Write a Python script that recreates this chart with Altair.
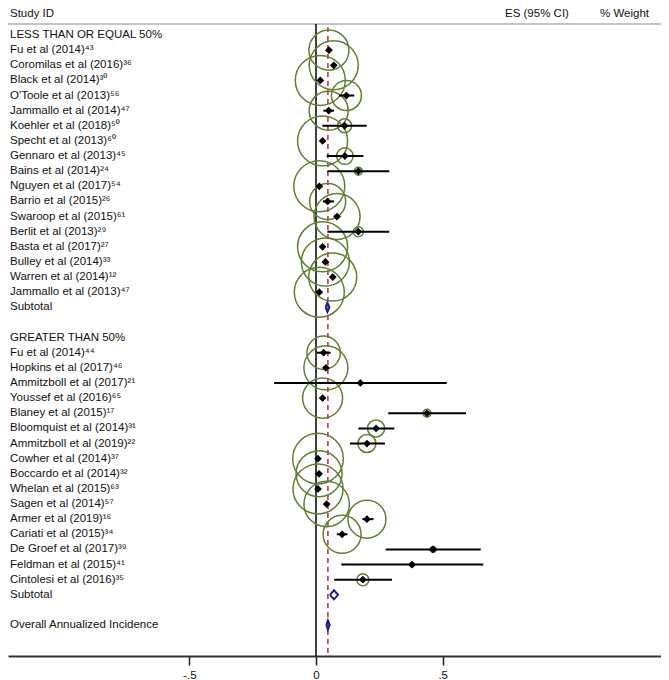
import altair as alt
import pandas as pd

FONT = "Liberation Sans, Noto Sans, Roboto"
TXT = "#111111"
GREEN = "#5f7f32"
NAVY = "#1c1c8a"
RED = "#b5283c"

# ---------------- data ----------------
group_titles = ["LESS THAN OR EQUAL 50%", "GREATER THAN 50%"]

g1_study = ["Fu et al (2014)", "Coromilas et al (2016)", "Black et al (2014)", "O'Toole  et al (2013)",
            "Jammallo et al (2014)", "Koehler et al (2018)", "Specht et al (2013)", "Gennaro et al (2013)",
            "Bains et al (2014)", "Nguyen et al (2017)", "Barrio et al (2015)", "Swaroop et al (2015)",
            "Berlit et al (2013)", "Basta et al (2017)", "Bulley et al (2014)", "Warren et al (2014)",
            "Jammallo et al (2013)"]
g1_ref = [43, 36, 30, 56, 47, 50, 60, 45, 24, 54, 26, 61, 29, 27, 33, 12, 47]
g1_es = [0.051, 0.070, 0.017, 0.120, 0.050, 0.113, 0.026, 0.114, 0.167, 0.013, 0.046, 0.083, 0.167, 0.026, 0.037, 0.066, 0.013]
g1_lo = [0.040, 0.060, 0.008, 0.091, 0.029, 0.025, 0.018, 0.042, 0.045, 0.006, 0.027, 0.072, 0.045, 0.018, 0.027, 0.055, 0.006]
g1_hi = [0.062, 0.080, 0.026, 0.151, 0.071, 0.200, 0.034, 0.187, 0.289, 0.020, 0.071, 0.094, 0.289, 0.034, 0.047, 0.077, 0.020]
g1_w = [3.54, 5.31, 5.53, 1.99, 3.36, 0.43, 5.53, 0.61, 0.14, 5.75, 2.87, 4.68, 0.22, 5.53, 5.09, 5.09, 5.53]

g2_study = ["Fu et al (2014)", "Hopkins et al (2017)", "Ammitzboll et al (2017)", "Youssef et al (2016)",
            "Blaney et al (2015)", "Bloomquist et al (2014)", "Ammitzboll et al (2019)", "Cowher et al (2014)",
            "Boccardo et al (2014)", "Whelan et al (2015)", "Sagen et al (2014)", "Armer et al (2019)",
            "Cariati et al (2015)", "De Groef et al (2017)", "Feldman et al (2015)", "Cintolesi et al (2016)"]
g2_ref = [44, 46, 21, 65, 17, 31, 22, 37, 32, 63, 57, 16, 34, 39, 41, 35]
g2_es = [0.030, 0.039, 0.175, 0.026, 0.438, 0.237, 0.201, 0.008, 0.012, 0.008, 0.042, 0.201, 0.103, 0.462, 0.379, 0.185]
g2_lo = [0.003, 0.030, -0.165, 0.017, 0.285, 0.167, 0.134, 0.002, 0.005, 0.002, 0.033, 0.183, 0.082, 0.275, 0.100, 0.072]
g2_hi = [0.058, 0.048, 0.516, 0.035, 0.592, 0.309, 0.272, 0.014, 0.019, 0.014, 0.051, 0.227, 0.124, 0.650, 0.660, 0.300]
g2_w = [2.47, 4.28, 0.01, 3.54, 0.14, 0.64, 0.72, 5.66, 4.68, 5.53, 4.55, 3.19, 3.19, 0.08, 0.04, 0.32]

pooled_label = ["Subtotal", "Subtotal", "Overall Annualized Incidence"]
pooled_es = [0.045, 0.071, 0.047]
pooled_lo = [0.038, 0.055, 0.041]
pooled_hi = [0.053, 0.087, 0.054]

header_texts = ["Study ID", "ES (95% CI)", "% Weight"]
tick_values = [-0.5, 0, 0.5]

# ---------------- build tables ----------------
SUP = str.maketrans("0123456789", "⁰¹²³⁴⁵⁶⁷⁸⁹")

studies = []
labels = []
row = 0
pooled_rows = []
for gi, (title, names, refs, es, lo, hi, w) in enumerate([
        (group_titles[0], g1_study, g1_ref, g1_es, g1_lo, g1_hi, g1_w),
        (group_titles[1], g2_study, g2_ref, g2_es, g2_lo, g2_hi, g2_w)]):
    labels.append({"text": title, "row": row})
    row += 1
    for n, r, e, l, h, ww in zip(names, refs, es, lo, hi, w):
        labels.append({"text": n + str(r).translate(SUP), "row": row})
        studies.append({"row": row, "es": e, "lo": l, "hi": h, "w": ww})
        row += 1
    labels.append({"text": pooled_label[gi], "row": row})
    pooled_rows.append(row)
    row += 2
labels.append({"text": pooled_label[2], "row": row})
pooled_rows.append(row)

studies_df = pd.DataFrame(studies)
labels_df = pd.DataFrame(labels)

poly = []
H = 0.3
for k, (r, e, l, h) in enumerate(zip(pooled_rows, pooled_es, pooled_lo, pooled_hi)):
    pts = [(l, r), (e, r - H), (h, r), (e, r + H), (l, r)]
    for j, (px, py) in enumerate(pts):
        poly.append({"id": k, "ord": j, "x": px, "row": py})
poly_df = pd.DataFrame(poly)

ref_df = pd.DataFrame({"x": [0.0]})
overall_df = pd.DataFrame({"x": [pooled_es[2]]})

# ---------------- scales ----------------
W, HT = 653, 648
xs = alt.Scale(domain=[-1.2155, 1.3615], nice=False, zero=False)
ys = alt.Scale(domain=[41.044, -1.7845], nice=False, zero=False)
X_AXIS = alt.Axis(values=tick_values, grid=False, title=None,
                  labelExpr="datum.value < 0 ? '-.5' : (datum.value > 0 ? '.5' : '0')",
                  domainColor="#333333", domainWidth=2, tickColor="#222222", tickSize=9,
                  tickWidth=1.5, labelFont=FONT, labelFontSize=11.5, labelColor=TXT,
                  labelPadding=4)


def X(field):
    return alt.X(field, type="quantitative", scale=xs, axis=X_AXIS)


def Y(field):
    return alt.Y(field, type="quantitative", scale=ys, axis=None)


header_line = alt.Chart(ref_df).mark_rule(color="#c4c4c4", strokeWidth=2).encode(
    x=alt.value(0), x2=alt.value(W), y=alt.value(16))

zero_line = alt.Chart(ref_df).mark_rule(color="black", strokeWidth=1.5).encode(
    x=X("x"), y=alt.value(16), y2=alt.value(HT))

overall_line = alt.Chart(overall_df).mark_rule(color=RED, strokeWidth=1.5, strokeDash=[5, 4]).encode(
    x=X("x"), y=alt.value(19), y2=alt.value(HT))

circles = alt.Chart(studies_df).mark_point(shape="circle", filled=False, color=GREEN,
                                           strokeWidth=1.5, opacity=1).encode(
    x=X("es"), y=Y("row"),
    size=alt.Size("w:Q", scale=alt.Scale(domain=[0, 6], range=[0, 2714]), legend=None))

ci = alt.Chart(studies_df).mark_rule(color="black", strokeWidth=2).encode(
    x=X("lo"), x2="hi", y=Y("row"))

points = alt.Chart(studies_df).mark_point(shape="diamond", filled=True, color="black",
                                          size=60, opacity=1).encode(
    x=X("es"), y=Y("row"))

diamonds = alt.Chart(poly_df).mark_line(color=NAVY, strokeWidth=2, strokeJoin="miter").encode(
    x=X("x"), y=Y("row"), detail="id:N", order="ord:Q")

text = alt.Chart(labels_df).mark_text(align="left", baseline="middle", font=FONT,
                                      fontSize=11.5, color=TXT).encode(
    x=alt.value(2), y=Y("row"), text="text:N")

header_pos = [2, 497, 592]
headers = [
    alt.Chart(ref_df).mark_text(align="left", baseline="middle", font=FONT, fontSize=11.5,
                                color=TXT, text=t).encode(x=alt.value(px), y=alt.value(5.5))
    for t, px in zip(header_texts, header_pos)
]

chart = alt.layer(header_line, zero_line, overall_line, circles, ci, points, diamonds, text, *headers).properties(
    width=W, height=HT,
    autosize=alt.AutoSizeParams(type="none"),
    padding={"left": 0, "top": 0, "right": 0, "bottom": 24},
    background="white",
).configure_view(stroke=None)

chart.save("out.html", embed_options={"renderer": "svg", "actions": False})
